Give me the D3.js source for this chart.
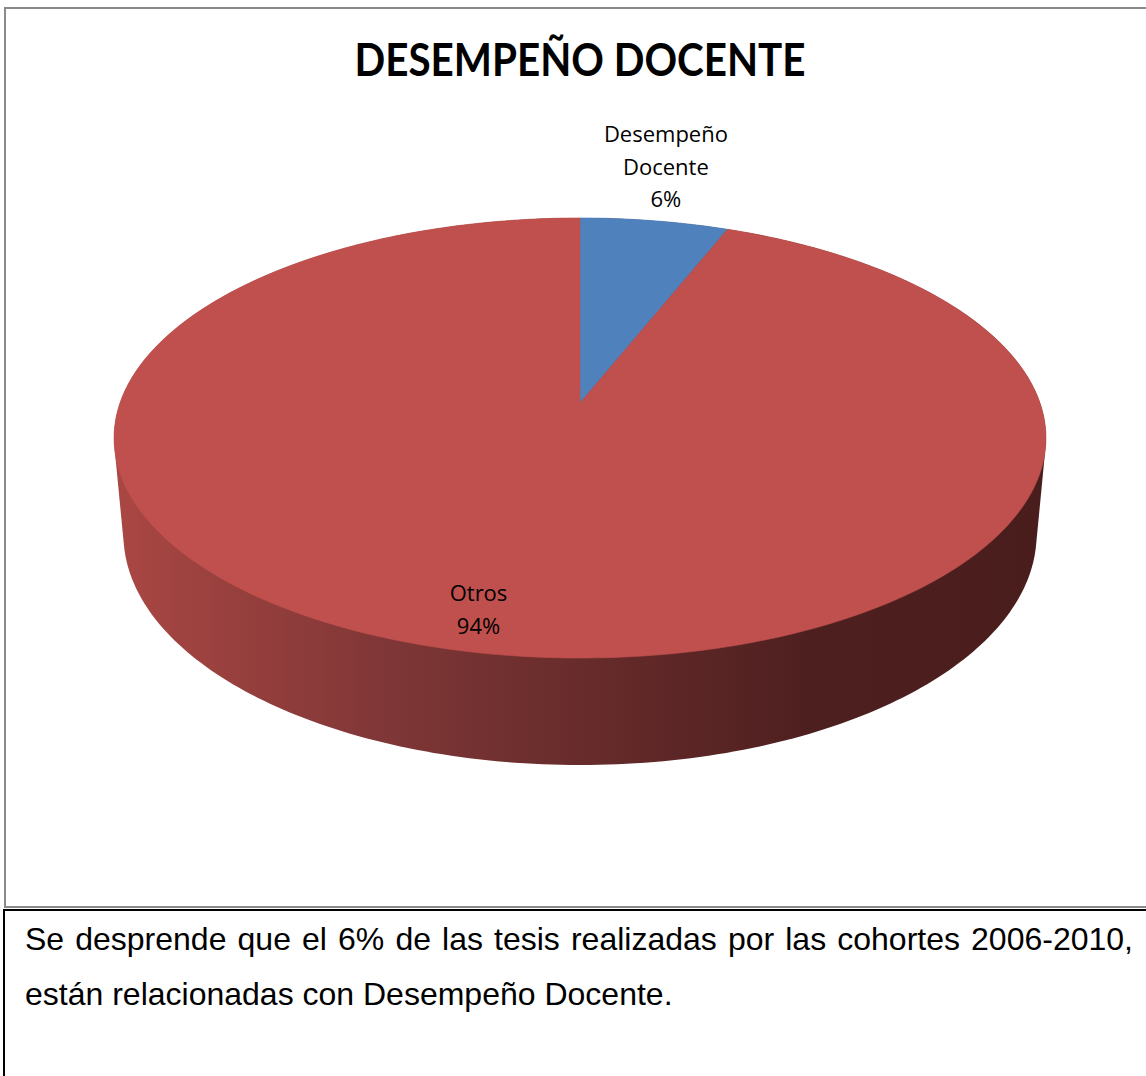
<!DOCTYPE html>
<html>
<head>
<meta charset="utf-8">
<script src="https://cdn.jsdelivr.net/npm/d3@7"></script>
<style>
  html, body { margin: 0; padding: 0; background: #fff; }
  svg { display: block; }
</style>
</head>
<body>
<svg id="chart" width="1146" height="1076"></svg>
<script>
// chart data
const categories = ['Desempeño Docente', 'Otros'];
const values = [6, 94];
const percentLabels = ['6%', '94%'];
const colors = ['#4F81BD', '#C0504D'];
const title = 'DESEMPEÑO DOCENTE';
const captionLines = [
  'Se desprende que el 6% de las tesis realizadas por las cohortes 2006-2010,',
  'están relacionadas con Desempeño Docente.'
];

const svg = d3.select('#chart');

// 3D perspective setup (tilted disc seen from above)
const cx = 580, cy = 403;
const tilt = 0.485;           // elevation angle (rad)
const dist = 5.565;           // camera distance (radius units)
const focal = 2560;
const depth = 0.239;          // thickness of the pie (radius units)
const sinT = Math.sin(tilt), cosT = Math.cos(tilt);

function project(X, Y, Z) {
  const sx = X;
  const sy = Z * sinT + Y * cosT;
  const w = dist - Z * cosT + Y * sinT;
  return [cx + focal * sx / w, cy + focal * sy / w];
}
// angle clockwise from 12 o'clock (far side)
function rimPoint(a, r, Y) {
  return project(r * Math.sin(a), Y, -r * Math.cos(a));
}

const pie = d3.pie().sort(null).value(d => d)(values);

// side gradient
const defs = svg.append('defs');
const grad = defs.append('linearGradient')
  .attr('id', 'sideGrad')
  .attr('gradientUnits', 'userSpaceOnUse')
  .attr('x1', 115).attr('x2', 1045).attr('y1', 0).attr('y2', 0);
[[0, '#aa4743'], [0.3, '#7e3636'], [0.55, '#632929'], [0.75, '#4e1f1f'], [1, '#4a1d1d']]
  .forEach(([o, c]) => grad.append('stop').attr('offset', o).attr('stop-color', c));

// chart frame
svg.append('rect')
  .attr('x', 5).attr('y', 8)
  .attr('width', 1160).attr('height', 899)
  .attr('fill', '#fff')
  .attr('stroke', '#8a8a8a')
  .attr('stroke-width', 2);

// title
svg.append('text')
  .attr('x', 580).attr('y', 76)
  .attr('text-anchor', 'middle')
  .attr('font-family', 'Lato, Open Sans')
  .attr('font-weight', 'bold')
  .attr('font-size', 46)
  .attr('textLength', 451)
  .attr('lengthAdjust', 'spacingAndGlyphs')
  .text(title);

// side silhouette
const steps = d3.range(0, 361).map(i => i / 360 * 2 * Math.PI);
const rimPts = steps.map(a => rimPoint(a, 1, 0))
  .concat(steps.map(a => rimPoint(a, 1, depth)));
const hull = d3.polygonHull(rimPts);
svg.append('path')
  .attr('d', d3.line()(hull) + 'Z')
  .attr('fill', 'url(#sideGrad)');

// top face slices
const line = d3.line();
function slicePath(d) {
  const n = Math.max(2, Math.ceil((d.endAngle - d.startAngle) / (Math.PI / 180)));
  const pts = [project(0, 0, 0)];
  for (let i = 0; i <= n; i++) {
    const a = d.startAngle + (d.endAngle - d.startAngle) * i / n;
    pts.push(rimPoint(a, 1, 0));
  }
  return line(pts) + 'Z';
}

svg.append('g')
  .selectAll('path')
  .data(pie)
  .join('path')
  .attr('d', slicePath)
  .attr('fill', (d, i) => colors[i])
  .attr('stroke', (d, i) => colors[i])
  .attr('stroke-width', 0.6);

// data labels
const labelRadius = [1.33, 0.85];
const labelNudge = [[-9, -4], [-17, 0]];
const labelLines = categories.map((c, i) =>
  (i === 0 ? ['Desempeño', 'Docente'] : [c]).concat([percentLabels[i]]));

pie.forEach((d, i) => {
  const mid = (d.startAngle + d.endAngle) / 2;
  const [lx, ly] = rimPoint(mid, labelRadius[i], 0);
  const ls = labelLines[i];
  const lh = 32.5;
  const t = svg.append('text')
    .attr('text-anchor', 'middle')
    .attr('font-family', 'Open Sans')
    .attr('font-size', 22)
    .attr('fill', '#000');
  ls.forEach((s, k) => {
    t.append('tspan')
      .attr('x', lx + labelNudge[i][0])
      .attr('y', ly + labelNudge[i][1] + (k - (ls.length - 1) / 2) * lh + 8)
      .text(s);
  });
});

// caption box
svg.append('rect')
  .attr('x', 4).attr('y', 910)
  .attr('width', 1160).attr('height', 200)
  .attr('fill', '#fff')
  .attr('stroke', '#000')
  .attr('stroke-width', 2);

const captionY = [950, 1005];
captionLines.forEach((s, i) => {
  const t = svg.append('text')
    .attr('x', 25).attr('y', captionY[i])
    .attr('font-family', 'Liberation Sans, Arial')
    .attr('font-size', 32)
    .attr('fill', '#000')
    .text(s);
  if (i === 0) {
    // justify first line
    const natural = t.node().getComputedTextLength();
    const spaces = s.split(' ').length - 1;
    t.attr('word-spacing', (1108 - natural) / spaces);
  }
});
</script>
</body>
</html>
